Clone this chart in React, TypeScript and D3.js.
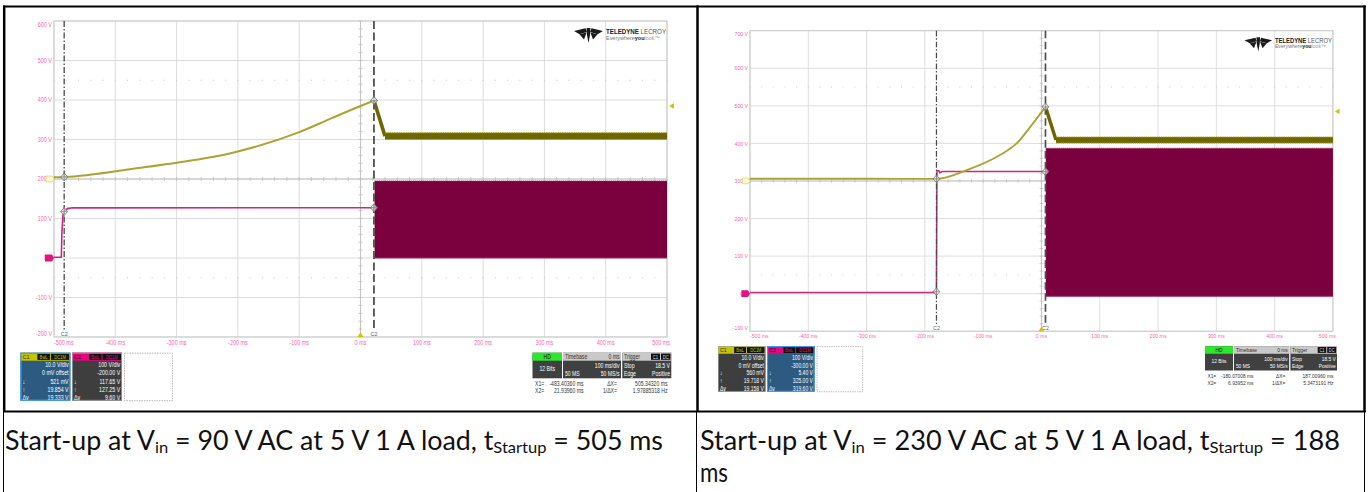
import React from 'react';
import * as d3 from 'd3';

// ---- shared axis values -------------------------------------------------
const timeTicksMs = [-500, -400, -300, -200, -100, 0, 100, 200, 300, 400, 500];
const gridDivs = [-4, -3, -2, -1, 0, 1, 2, 3, 4];
const triggerLevelV = 18.5;

// ---- 90 V AC capture ----------------------------------------------------
// C1 (10 V/div): rise of the VCC rail until start-up, [ms, V]
const c1Rise90: [number, number][] = [
  [-500, 0.45], [-483.4036, 0.521], [-362, 2.8], [-297, 4.2], [-210, 6.6],
  [-101, 11.8], [-47, 15.4], [2, 18.6], [21.9396, 19.854],
];
const c1Settle90: [number, number][] = [[21.9396, 19.854], [40, 10.85]];
const c1Ripple90 = [40, 10.0, 11.7]; // start ms, low V, high V
// C2 (100 V/div): bulk / drain voltage, [ms, V]
const c2Line90: [number, number][] = [
  [-500, 2], [-488, 2], [-487.2, 60], [-485.5, 108], [-483.4036, 117.65],
  [-478, 125], [-470, 127], [21.9396, 127.25],
];
const c2Switch90 = [23, 0, 195]; // start ms, low V, high V
const cursors90 = [-483.4036, 21.9396];
const c1Cursor90 = [0.521, 19.854];
const c2Cursor90 = [117.65, 127.25];

// ---- 230 V AC capture ---------------------------------------------------
const c1Rise230: [number, number][] = [
  [-500, 0.6], [-300, 0.58], [-180.07008, 0.56], [-128, 2.9], [-71, 6.9],
  [-42.5, 10.0], [-14.6, 15.3], [6.93952, 19.718],
];
const c1Settle230: [number, number][] = [[6.93952, 19.718], [25, 10.9]];
const c1Ripple230 = [25, 10.1, 11.7];
const c2Line230: [number, number][] = [
  [-500, 3], [-180.6, 3], [-180.07008, 5.4], [-179.6, 200], [-179.2, 327],
  [-176, 327], [-174.5, 322], [-170, 325], [6.93952, 325],
];
const c2Switch230 = [7.5, -7, 387];
const cursors230 = [-180.07008, 6.93952];
const c1Cursor230 = [0.56, 19.718];
const c2Cursor230 = [5.4, 325.0];

// ---- geometry of one scope screen (local units) -------------------------
const PX0 = 54, PX1 = 667, PY0 = 21, PY1 = 337;

const C1_LINE = '#aba333';
const C1_BAND = '#6c6700';
const C1_EDGE = '#a69e22';
const C2_LINE = '#cc2a78';
const C2_BAND = '#7b003e';
const C2_EDGE = '#a4285f';
const AXIS_PINK = '#ff5fae';
const SMALL_FONT = "'Liberation Sans', Arial, sans-serif";

const fmtC1 = (v: number) => (v < 1 ? `${Math.round(v * 1000)} mV` : `${v.toFixed(3)} V`);
const fmtC2 = (v: number) => `${v.toFixed(2)} V`;

// Narrow text: glyphs squeezed horizontally around their anchor point
type NTProps = {
  x: number; y: number; size?: number; fill?: string; anchor?: 'start' | 'middle' | 'end';
  sx?: number; weight?: string; children: React.ReactNode;
};
function NT({ x, y, size = 6.2, fill = '#fff', anchor = 'start', sx = 0.8, weight, children }: NTProps) {
  return (
    <text transform={`translate(${x},${y}) scale(${sx},1)`} fontSize={size} fill={fill}
      textAnchor={anchor} fontWeight={weight}>{children}</text>
  );
}

function Logo({ x, y }: { x: number; y: number }) {
  return (
    <g transform={`translate(${x},${y})`}>
      <g fill="#1b1b1b">
        <path d="M0,3 L11.5,0.3 L13,4 L5.5,6.2 Z" />
        <path d="M5.5,6.2 L12.6,4.6 L10,11.5 Z" />
        <path d="M12.6,0 L16.4,0 L16,7 L14.5,15 L13,7 Z" />
        <path d="M29,3 L17.5,0.3 L16,4 L23.5,6.2 Z" />
        <path d="M23.5,6.2 L16.4,4.6 L19,11.5 Z" />
      </g>
      <text x={32} y={5.8} fontSize={6.6} fontFamily={SMALL_FONT} textLength={60} lengthAdjust="spacingAndGlyphs">
        <tspan fontWeight="bold" fill="#222">TELEDYNE</tspan>
        <tspan fill="#555"> LECROY</tspan>
      </text>
      <text x={32} y={11.5} fontSize={5.2} fontFamily={SMALL_FONT} textLength={54} lengthAdjust="spacingAndGlyphs">
        <tspan fill="#777">Everywhere</tspan>
        <tspan fill="#222" fontWeight="bold">you</tspan>
        <tspan fill="#999">look™</tspan>
      </text>
    </g>
  );
}

type ChannelBoxProps = {
  x: number; y: number; label: string; color: string; textColor: string;
  selected: boolean; rows: string[]; marks: string[];
};

function ChannelBox({ x, y, label, color, textColor, selected, rows, marks }: ChannelBoxProps) {
  const w = 50, h = 48, hh = 8;
  return (
    <g>
      <rect x={x} y={y} width={w} height={h} fill={selected ? '#2c5a80' : '#3e3e3e'} />
      <rect x={x} y={y} width={w} height={hh} fill={color} />
      <NT x={x + 2} y={y + 6.3} size={6.2} fill={textColor} sx={0.9}>{label}</NT>
      <rect x={x + 17} y={y + 1} width={12.5} height={6.2} fill="#111" />
      <NT x={x + 23.25} y={y + 6} size={5.2} fill={color} anchor="middle">BwL</NT>
      <rect x={x + 30.5} y={y + 1} width={18.5} height={6.2} fill="#111" />
      <NT x={x + 39.75} y={y + 6} size={5.2} fill={color} anchor="middle">DC1M</NT>
      {rows.map((r, i) => (
        <g key={i}>
          <NT x={x + 2} y={y + 14.6 + i * 8.1} size={6.6}>{marks[i]}</NT>
          <NT x={x + w - 1.8} y={y + 14.6 + i * 8.1} size={6.6} anchor="end">{r}</NT>
        </g>
      ))}
      <rect x={x + 0.5} y={y + 0.5} width={w - 1} height={h - 1} fill="none"
        stroke={selected ? '#3d9fec' : '#a8a8a8'} strokeWidth={selected ? 1.2 : 0.7} />
    </g>
  );
}

type ScopeProps = {
  tx: number; ty: number; s: number; c2Center: number;
  c1Rise: [number, number][]; c1Settle: [number, number][]; c1Ripple: number[];
  c2Line: [number, number][]; c2Switch: number[];
  cursors: number[]; c1Cursor: number[]; c2Cursor: number[];
  selected: 1 | 2; hzDigits: number;
};

function Scope(p: ScopeProps) {
  const x = d3.scaleLinear().domain([-500, 500]).range([PX0, PX1]);
  const yDiv = d3.scaleLinear().domain([-4, 4]).range([PY1, PY0]);
  const yC1 = d3.scaleLinear().domain([-40, 40]).range([PY1, PY0]); // 10 V/div, 0 V offset
  const yC2 = d3.scaleLinear().domain([p.c2Center - 400, p.c2Center + 400]).range([PY1, PY0]); // 100 V/div

  const c1Path = d3.line<[number, number]>().x(d => x(d[0])).y(d => yC1(d[1])).curve(d3.curveMonotoneX);
  const c1Straight = d3.line<[number, number]>().x(d => x(d[0])).y(d => yC1(d[1]));
  const c2Path = d3.line<[number, number]>().x(d => x(d[0])).y(d => yC2(d[1]));

  const xc = x(0), yc = yDiv(0);
  const minorT = d3.range(-25, 26).map(i => i * 20);
  const minorD = d3.range(-20, 21).map(i => i / 5);

  const [r1Start, r1Low, r1High] = p.c1Ripple;
  const [s2Start, s2Low, s2High] = p.c2Switch;
  const [cx1, cx2] = p.cursors;

  const c1Rows = ['10.0 V/div', '0 mV offset', fmtC1(p.c1Cursor[0]), fmtC1(p.c1Cursor[1]),
    `${(p.c1Cursor[1] - p.c1Cursor[0]).toFixed(3)} V`];
  const c2Rows = ['100 V/div', `${(-p.c2Center).toFixed(2)} V`, fmtC2(p.c2Cursor[0]), fmtC2(p.c2Cursor[1]),
    fmtC2(p.c2Cursor[1] - p.c2Cursor[0])];
  const marks = ['', '', '↓', '↑', 'Δy'];

  const crossMarker = (cx: number, cy: number, key: string) => (
    <g key={key}>
      <path d={`M${cx},${cy - 4} L${cx + 3.5},${cy} L${cx},${cy + 4} L${cx - 3.5},${cy} Z`}
        fill="#f4f4f4" fillOpacity={0.7} stroke="#6e6e6e" strokeWidth={0.8} />
      <path d={`M${cx - 3.5},${cy} H${cx + 3.5} M${cx},${cy - 4} V${cy + 4}`} stroke="#6e6e6e" strokeWidth={0.6} />
    </g>
  );

  const yLabel = (d: number) => {
    const v = p.c2Center + d * 100;
    let yy = yDiv(d) + 2.3;
    if (d === 4) yy = PY0 + 6;
    if (d === -4) yy = PY1 - 1.5;
    return <NT key={d} x={PX0 - 2} y={yy} size={6.4} fill={AXIS_PINK} anchor="end" sx={0.85}>{`${v} V`}</NT>;
  };

  const last = timeTicksMs.length - 1;

  return (
    <g transform={`translate(${p.tx},${p.ty}) scale(${p.s})`} fontFamily={SMALL_FONT}>
      {/* graticule */}
      {timeTicksMs.map(t => <line key={`v${t}`} x1={x(t)} x2={x(t)} y1={PY0} y2={PY1} stroke="#dcdcdc" strokeWidth={1} />)}
      {gridDivs.map(d => <line key={`h${d}`} x1={PX0} x2={PX1} y1={yDiv(d)} y2={yDiv(d)} stroke="#dcdcdc" strokeWidth={1} />)}
      <line x1={xc} x2={xc} y1={PY0} y2={PY1} stroke="#c4c4c4" strokeWidth={1} />
      <line x1={PX0} x2={PX1} y1={yc} y2={yc} stroke="#c4c4c4" strokeWidth={1} />
      {minorT.map(t => <line key={`mt${t}`} x1={x(t)} x2={x(t)} y1={yc - 2} y2={yc + 2} stroke="#bdbdbd" strokeWidth={0.8} />)}
      {minorD.map(d => <line key={`md${d}`} x1={xc - 2} x2={xc + 2} y1={yDiv(d)} y2={yDiv(d)} stroke="#bdbdbd" strokeWidth={0.8} />)}
      {[-2.5, 2.5].map(d => minorT.map(t => (
        <rect key={`dot${d}${t}`} x={x(t) - 0.5} y={yDiv(d) - 0.5} width={1} height={1} fill="#c6c6c6" />
      )))}
      <rect x={PX0} y={PY0} width={PX1 - PX0} height={PY1 - PY0} fill="none" stroke="#c9c9c9" strokeWidth={1} />

      <Logo x={574} y={28} />

      {/* axis labels */}
      {gridDivs.map(yLabel)}
      {timeTicksMs.map((t, i) => (
        <NT key={`xl${t}`} x={i === 0 ? PX0 : i === last ? PX1 + 3 : x(t)} y={PY1 + 7.5}
          size={6.4} fill={AXIS_PINK} sx={0.85}
          anchor={i === 0 ? 'start' : i === last ? 'end' : 'middle'}>{`${t} ms`}</NT>
      ))}

      {/* channel 2: switching band after start-up */}
      <rect x={x(s2Start)} y={yC2(s2High)} width={PX1 - x(s2Start)} height={yC2(s2Low) - yC2(s2High)} fill={C2_BAND} />
      <line x1={x(s2Start)} x2={PX1} y1={yC2(s2High)} y2={yC2(s2High)} stroke={C2_EDGE} strokeWidth={1.2} strokeDasharray="1.2 0.8" />
      <line x1={x(s2Start)} x2={PX1} y1={yC2(s2Low)} y2={yC2(s2Low)} stroke={C2_EDGE} strokeWidth={1} />
      <path d={c2Path(p.c2Line) || ''} fill="none" stroke={C2_LINE} strokeWidth={1.6} />

      {/* channel 1: ramp, fall and ripple band */}
      <path d={c1Path(p.c1Rise) || ''} fill="none" stroke={C1_LINE} strokeWidth={2} />
      <path d={c1Straight(p.c1Settle) || ''} fill="none" stroke={C1_BAND} strokeWidth={3.6} />
      <rect x={x(r1Start)} y={yC1(r1High)} width={PX1 - x(r1Start)} height={yC1(r1Low) - yC1(r1High)} fill={C1_BAND} />
      <line x1={x(r1Start)} x2={PX1} y1={yC1(r1High)} y2={yC1(r1High)} stroke={C1_EDGE} strokeWidth={1.1} strokeDasharray="1.5 0.8" />
      <line x1={x(r1Start)} x2={PX1} y1={yC1(r1Low)} y2={yC1(r1Low)} stroke={C1_EDGE} strokeWidth={1.1} strokeDasharray="1.5 0.8" />

      {/* cursors */}
      <line x1={x(cx1)} x2={x(cx1)} y1={PY0} y2={PY1 - 7} stroke="#4a4a4a" strokeWidth={1.3} strokeDasharray="6 2 1.5 2" />
      <line x1={x(cx2)} x2={x(cx2)} y1={PY0} y2={PY1 - 7} stroke="#505050" strokeWidth={1.8} strokeDasharray="8 3.5" />
      {[cx1, cx2].map((c, i) => (
        <NT key={`cl${i}`} x={x(c)} y={PY1 - 1} size={6.2} fill="#666" anchor="middle" sx={0.9}>C2</NT>
      ))}
      {crossMarker(x(cx1), yC1(p.c1Cursor[0]), 'a')}
      {crossMarker(x(cx1), yC2(p.c2Cursor[0]), 'b')}
      {crossMarker(x(cx2), yC1(p.c1Cursor[1]), 'c')}
      {crossMarker(x(cx2), yC2(p.c2Cursor[1]), 'd')}

      {/* trigger position and level, channel ground markers */}
      <path d={`M${xc - 3},${PY1} L${xc + 3},${PY1} L${xc},${PY1 - 5} Z`} fill="#d2c600" />
      <path d={`M${PX1 + 2},${yC1(triggerLevelV)} L${PX1 + 7},${yC1(triggerLevelV) - 3} L${PX1 + 7},${yC1(triggerLevelV) + 3} Z`} fill="#d2c600" />
      <path d={`M${PX0 - 8},${yC1(0) - 3} H${PX0 - 2} L${PX0},${yC1(0)} L${PX0 - 2},${yC1(0) + 3} H${PX0 - 8} Z`}
        fill="#fffbd8" stroke="#d9d27a" strokeWidth={0.8} />
      <path d={`M${PX0 - 9},${yC2(0) - 3.5} H${PX0 - 2} L${PX0},${yC2(0)} L${PX0 - 2},${yC2(0) + 3.5} H${PX0 - 9} Z`} fill="#e3147f" />

      {/* channel descriptors */}
      <ChannelBox x={20.4} y={352.7} label="C1" color="#c9c200" textColor="#3a3a00" selected={p.selected === 1} rows={c1Rows} marks={marks} />
      <ChannelBox x={72} y={352.7} label="C2" color="#e8037f" textColor="#3a0020" selected={p.selected === 2} rows={c2Rows} marks={marks} />
      <rect x={124.5} y={353.2} width={48} height={47.5} fill="none" stroke="#9a9a9a" strokeWidth={0.7} strokeDasharray="1.5 1" />

      {/* acquisition status */}
      <rect x={532.5} y={352.7} width={29.5} height={25.6} fill="#404040" />
      <rect x={532.5} y={352.7} width={29.5} height={8} fill="#2ee62e" />
      <NT x={547.25} y={359} size={6.4} anchor="middle" fill="#111">HD</NT>
      <NT x={547.25} y={370.8} size={6.4} anchor="middle">12 Bits</NT>

      <rect x={563} y={352.7} width={58} height={25.6} fill="#404040" />
      <rect x={563} y={352.7} width={58} height={8} fill="#c9c9c9" />
      <NT x={565} y={359} size={6.4} fill="#333">Timebase</NT>
      <NT x={619.5} y={359} size={6.4} fill="#333" anchor="end">0 ms</NT>
      <NT x={619.5} y={368} size={6.4} anchor="end">100 ms/div</NT>
      <NT x={565} y={376.2} size={6.4}>50 MS</NT>
      <NT x={619.5} y={376.2} size={6.4} anchor="end">50 MS/s</NT>

      <rect x={622.3} y={352.7} width={49} height={25.6} fill="#404040" />
      <rect x={622.3} y={352.7} width={49} height={8} fill="#c9c9c9" />
      <NT x={624} y={359} size={6.4} fill="#333">Trigger</NT>
      <rect x={651} y={353.6} width={9} height={6.2} fill="#111" />
      <NT x={655.5} y={358.8} size={5.2} fill="#ddd" anchor="middle">C1</NT>
      <rect x={661} y={353.6} width={9.5} height={6.2} fill="#111" />
      <NT x={665.75} y={358.8} size={5.2} fill="#ddd" anchor="middle">DC</NT>
      <NT x={624} y={368} size={6.4}>Stop</NT>
      <NT x={670} y={368} size={6.4} anchor="end">{`${triggerLevelV} V`}</NT>
      <NT x={624} y={376.2} size={6.4}>Edge</NT>
      <NT x={670} y={376.2} size={6.4} anchor="end">Positive</NT>

      <NT x={535} y={386} size={6.4} fill="#333">X1=</NT>
      <NT x={583.5} y={386} size={6.4} fill="#333" anchor="end">{`${cx1.toFixed(5)} ms`}</NT>
      <NT x={617} y={386} size={6.4} fill="#333" anchor="end">ΔX=</NT>
      <NT x={667.5} y={386} size={6.4} fill="#333" anchor="end">{`${(cx2 - cx1).toFixed(5)} ms`}</NT>
      <NT x={535} y={393.2} size={6.4} fill="#333">X2=</NT>
      <NT x={583.5} y={393.2} size={6.4} fill="#333" anchor="end">{`${cx2.toFixed(5)} ms`}</NT>
      <NT x={617} y={393.2} size={6.4} fill="#333" anchor="end">1/ΔX=</NT>
      <NT x={667.5} y={393.2} size={6.4} fill="#333" anchor="end">{`${(1000 / (cx2 - cx1)).toPrecision(p.hzDigits)} Hz`}</NT>
    </g>
  );
}

export default function App() {
  const sub = 16;
  return (
    <svg width={1368} height={492} viewBox="0 0 1368 492"
      style={{ position: 'absolute', left: 0, top: 0, display: 'block', background: '#fff' }}>
      <rect width={1368} height={492} fill="#fff" />

      <Scope tx={0} ty={0} s={1} c2Center={200}
        c1Rise={c1Rise90} c1Settle={c1Settle90} c1Ripple={c1Ripple90}
        c2Line={c2Line90} c2Switch={c2Switch90}
        cursors={cursors90} c1Cursor={c1Cursor90} c2Cursor={c2Cursor90}
        selected={1} hzDigits={9} />
      <Scope tx={698.6} ty={10.73} s={0.951} c2Center={300}
        c1Rise={c1Rise230} c1Settle={c1Settle230} c1Ripple={c1Ripple230}
        c2Line={c2Line230} c2Switch={c2Switch230}
        cursors={cursors230} c1Cursor={c1Cursor230} c2Cursor={c2Cursor230}
        selected={2} hzDigits={8} />

      {/* table rules */}
      <g stroke="#000">
        <line x1={3} x2={1366} y1={6.5} y2={6.5} strokeWidth={2} />
        <line x1={4.2} x2={4.2} y1={5.5} y2={412} strokeWidth={2.5} />
        <line x1={697.5} x2={697.5} y1={5.5} y2={412} strokeWidth={2.5} />
        <line x1={1364.5} x2={1364.5} y1={5.5} y2={412} strokeWidth={2.5} />
        <line x1={3} x2={1366} y1={411.5} y2={411.5} strokeWidth={2} />
        <line x1={3.5} x2={3.5} y1={412} y2={492} strokeWidth={1} />
        <line x1={696.5} x2={696.5} y1={412} y2={492} strokeWidth={1} />
        <line x1={1364.5} x2={1364.5} y1={412} y2={492} strokeWidth={1} />
      </g>

      {/* captions */}
      <g fontFamily="Lato, 'Open Sans', sans-serif" fontSize={26} fill="#111">
        <text x={5} y={450} textLength={658} lengthAdjust="spacingAndGlyphs">
          Start-up at V<tspan fontSize={sub} dy={3}>in</tspan><tspan dy={-3}> = 90 V AC at 5 V 1 A load, t</tspan>
          <tspan fontSize={sub} dy={3}>Startup</tspan><tspan dy={-3}> = 505 ms</tspan>
        </text>
        <text x={700} y={450} textLength={640} lengthAdjust="spacingAndGlyphs">
          Start-up at V<tspan fontSize={sub} dy={3}>in</tspan><tspan dy={-3}> = 230 V AC at 5 V 1 A load, t</tspan>
          <tspan fontSize={sub} dy={3}>Startup</tspan><tspan dy={-3}> = 188</tspan>
        </text>
        <text x={700} y={482} textLength={28} lengthAdjust="spacingAndGlyphs">ms</text>
      </g>
    </svg>
  );
}
